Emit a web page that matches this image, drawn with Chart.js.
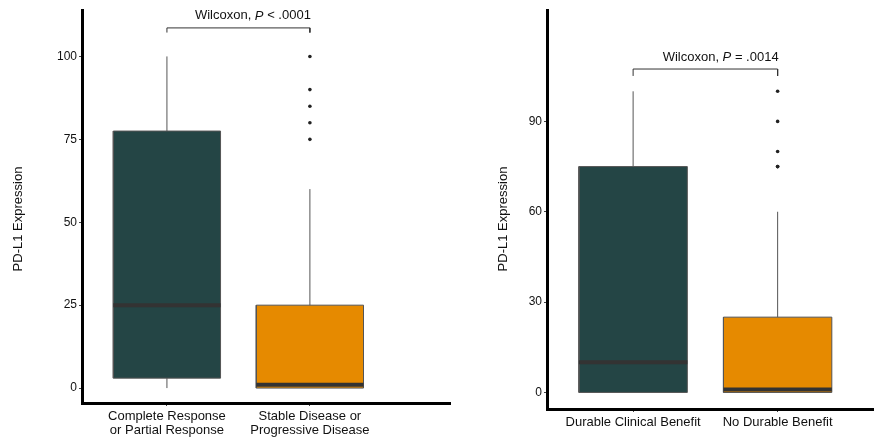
<!DOCTYPE html>
<html>
<head>
<meta charset="utf-8">
<script src="https://cdn.jsdelivr.net/npm/chart.js@4.4.1/dist/chart.umd.min.js"></script>
<style>
  html, body { margin: 0; padding: 0; background: #fff; }
  #wrap { position: relative; width: 877px; height: 439px; overflow: hidden; }
  canvas { position: absolute; top: 0; }
  #left-chart { left: 0; }
  #right-chart { left: 460px; }
</style>
</head>
<body>
<div id="wrap">
  <canvas id="left-chart" width="460" height="439"></canvas>
  <canvas id="right-chart" width="417" height="439"></canvas>
</div>
<script>
// left panel: best overall response
const leftLabels = [['Complete Response', 'or Partial Response'], ['Stable Disease or', 'Progressive Disease']];
const leftMin = [0, 0];
const leftQ1 = [3, 0];
const leftMedian = [25, 1];
const leftQ3 = [77.5, 25];
const leftMax = [100, 60];
const leftOutliers = [[], [100, 90, 85, 80, 75]];
const leftTicks = [0, 25, 50, 75, 100];
const leftPText = ['Wilcoxon, ', 'P', ' < .0001'];

// right panel: durable clinical benefit
const rightLabels = ['Durable Clinical Benefit', 'No Durable Benefit'];
const rightMin = [0, 0];
const rightQ1 = [0, 0];
const rightMedian = [10, 1];
const rightQ3 = [75, 25];
const rightMax = [100, 60];
const rightOutliers = [[], [100, 90, 80, 75, 75]];
const rightTicks = [0, 30, 60, 90];
const rightPText = ['Wilcoxon, ', 'P', ' = .0014'];

const boxColors = ['#244545', '#E68A00'];
const FONT = '"Liberation Sans", Arial, sans-serif';
const HALF = 0.375;

function boxDatasets(min, q1, med, q3, max, outliers, bracket) {
  const front = [];
  const back = [];
  // significance bracket
  front.push({
    data: [{x: 1, y: bracket[0]}, {x: 1, y: bracket[1]}, {x: 2, y: bracket[1]}, {x: 2, y: bracket[0]}],
    borderColor: '#333', borderWidth: 1, pointRadius: 0, fill: false
  });
  for (let i = 0; i < 2; i++) {
    const x = i + 1;
    const pts = outliers[i].map(v => ({x: x, y: v}));
    if (pts.length) {
      front.push({
        data: pts, showLine: false, pointRadius: 1.8, pointBackgroundColor: '#222',
        pointBorderColor: '#222', pointBorderWidth: 0
      });
    }
    front.push({
      data: [{x: x - HALF, y: med[i]}, {x: x + HALF, y: med[i]}],
      borderColor: '#333', borderWidth: 4, pointRadius: 0, fill: false, borderCapStyle: 'butt'
    });
    back.push({
      data: [{x: x, y: q3[i]}, {x: x, y: max[i]}],
      borderColor: '#555', borderWidth: 1, pointRadius: 0, fill: false
    });
    back.push({
      data: [{x: x, y: min[i]}, {x: x, y: q1[i]}],
      borderColor: '#555', borderWidth: 1, pointRadius: 0, fill: false
    });
    back.push({
      data: [
        {x: x - HALF, y: q1[i]}, {x: x + HALF, y: q1[i]},
        {x: x + HALF, y: q3[i]}, {x: x - HALF, y: q3[i]}, {x: x - HALF, y: q1[i]}
      ],
      borderColor: '#555', borderWidth: 1, pointRadius: 0,
      backgroundColor: boxColors[i], fill: 'shape'
    });
  }
  return front.concat(back);
}

function annotPlugin(ptext, textOffset, titleX) {
  return {
    id: 'annot',
    afterDraw(chart) {
      const ctx = chart.ctx;
      const xs = chart.scales.x;
      const ys = chart.scales.y;
      const bracketY = ys.getPixelForValue(chart.options.bracketTop);
      ctx.save();
      ctx.fillStyle = '#111';
      ctx.textBaseline = 'middle';
      const normal = '13px ' + FONT;
      const italic = 'italic 13px ' + FONT;
      ctx.font = normal;
      const w0 = ctx.measureText(ptext[0]).width;
      const w2 = ctx.measureText(ptext[2]).width;
      ctx.font = italic;
      const w1 = ctx.measureText(ptext[1]).width;
      let x = xs.getPixelForValue(2) + 1 - (w0 + w1 + w2);
      const y = bracketY - textOffset;
      ctx.font = normal;
      ctx.fillText(ptext[0], x, y);
      ctx.font = italic;
      ctx.fillText(ptext[1], x + w0, y);
      ctx.font = normal;
      ctx.fillText(ptext[2], x + w0 + w1, y);
      // y axis title
      ctx.translate(titleX, 219);
      ctx.rotate(-Math.PI / 2);
      ctx.textAlign = 'center';
      ctx.font = '13px ' + FONT;
      ctx.fillText('PD-L1 Expression', 0, 0);
      ctx.restore();
    }
  };
}

function makeChart(id, cfg) {
  const labels = cfg.labels;
  return new Chart(document.getElementById(id), {
    type: 'line',
    data: {
      datasets: boxDatasets(cfg.min, cfg.q1, cfg.med, cfg.q3, cfg.max, cfg.outliers, cfg.bracket)
    },
    options: {
      responsive: false,
      animation: false,
      bracketTop: cfg.bracket[1],
      layout: {padding: {top: 10, right: cfg.padRight, left: 0, bottom: 0}},
      elements: {line: {tension: 0}},
      plugins: {legend: {display: false}, tooltip: {enabled: false}},
      scales: {
        x: {
          type: 'linear',
          min: cfg.xRange[0],
          max: cfg.xRange[1],
          afterBuildTicks: s => { s.ticks = [{value: 1}, {value: 2}]; },
          afterFit: s => { s.height = cfg.xHeight; },
          border: {display: true, color: '#000', width: 3},
          grid: {drawOnChartArea: false, drawTicks: true, tickLength: 3, color: '#444'},
          ticks: {
            color: '#111', padding: 3, maxRotation: 0, autoSkip: false,
            font: {family: FONT, size: 13, lineHeight: 1.1},
            callback: v => labels[Math.round(v) - 1]
          }
        },
        y: {
          type: 'linear',
          min: cfg.yRange[0],
          max: cfg.yRange[1],
          afterBuildTicks: s => { s.ticks = cfg.ticks.map(v => ({value: v})); },
          afterFit: s => { s.width = cfg.yWidth; },
          border: {display: true, color: '#000', width: 3},
          grid: {drawOnChartArea: false, drawTicks: true, tickLength: 3, color: '#444'},
          ticks: {color: '#111', padding: 2, font: {family: FONT, size: 12}}
        }
      }
    },
    plugins: [annotPlugin(cfg.ptext, 12, cfg.titleX)]
  });
}

makeChart('left-chart', {
  labels: leftLabels, min: leftMin, q1: leftQ1, med: leftMedian, q3: leftQ3, max: leftMax,
  outliers: leftOutliers, ticks: leftTicks, ptext: leftPText,
  bracket: [107.2, 108.6], xRange: [0.406, 2.98], yRange: [-4.5, 114],
  yWidth: 82, xHeight: 36, padRight: 10, titleX: 18
});

makeChart('right-chart', {
  labels: rightLabels, min: rightMin, q1: rightQ1, med: rightMedian, q3: rightQ3, max: rightMax,
  outliers: rightOutliers, ticks: rightTicks, ptext: rightPText,
  bracket: [105.1, 107.4], xRange: [0.404, 2.66], yRange: [-5.5, 127],
  yWidth: 87, xHeight: 30, padRight: 0, titleX: 43
});
</script>
</body>
</html>
